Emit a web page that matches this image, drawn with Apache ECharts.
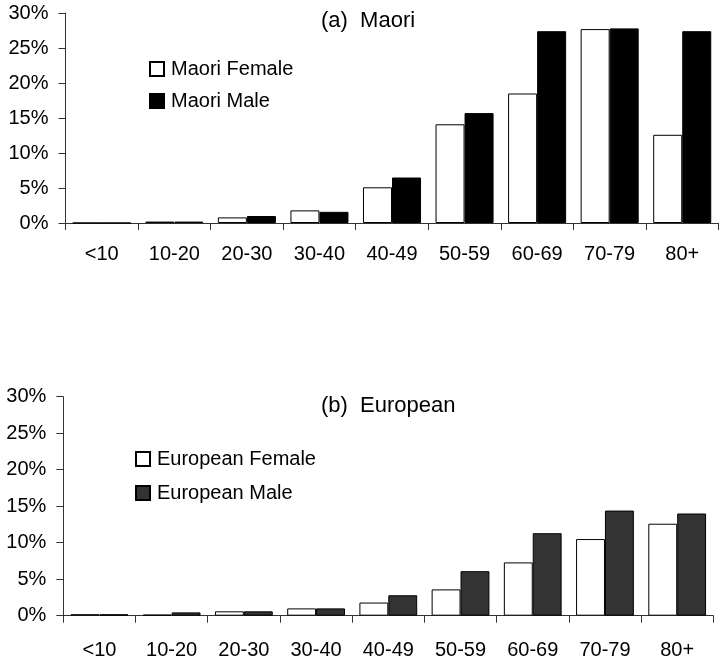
<!DOCTYPE html>
<html>
<head>
<meta charset="utf-8">
<script src="https://cdn.jsdelivr.net/npm/echarts@6/dist/echarts.min.js"></script>
<style>
  html, body { margin: 0; padding: 0; background: #fff; }
  #chart { width: 720px; height: 665px; }
</style>
</head>
<body>
<div id="chart"></div>
<script>
// Age groups shared by both panels
const ageGroups = ['<10', '10-20', '20-30', '30-40', '40-49', '50-59', '60-69', '70-79', '80+'];

// Panel (a): Maori, percent of cases per age group
const maoriFemale = [0, 0.2, 0.8, 1.8, 5.1, 14.1, 18.5, 27.7, 12.6];
const maoriMale   = [0, 0.2, 1.0, 1.6, 6.5, 15.7, 27.4, 27.8, 27.4];

// Panel (b): European, percent of cases per age group
const europeanFemale = [0.2, 0.15, 0.6, 1.0, 1.8, 3.6, 7.3, 10.5, 12.6];
const europeanMale   = [0.2, 0.45, 0.6, 1.0, 2.8, 6.1, 11.3, 14.4, 14.0];

// Y tick settings (percent)
const yMin = 0, yMax = 30, yStep = 5;

const FONT = "'Liberation Sans', Arial, sans-serif";
const axisColor = '#333';

function xAxisFor(gridIndex, labelMargin) {
  return {
    type: 'category', gridIndex, data: ageGroups,
    axisLine: { lineStyle: { color: axisColor, width: 1 } },
    axisTick: { show: true, length: 7, lineStyle: { color: axisColor } },
    axisLabel: { color: '#000', fontSize: 20, fontFamily: FONT, margin: labelMargin }
  };
}
function yAxisFor(gridIndex) {
  return {
    type: 'value', gridIndex, min: yMin, max: yMax, interval: yStep,
    axisLine: { show: true, lineStyle: { color: axisColor, width: 1 } },
    axisTick: { show: true, length: 7, lineStyle: { color: axisColor } },
    splitLine: { show: false },
    axisLabel: { color: '#000', fontSize: 20, fontFamily: FONT, margin: 17, formatter: '{value}%' }
  };
}
function barSeries(name, data, color, idx) {
  return {
    name, type: 'bar', data, xAxisIndex: idx, yAxisIndex: idx,
    barGap: '0%', barCategoryGap: '20%',
    itemStyle: { color, borderColor: '#000', borderWidth: 1 },
    emphasis: { disabled: true }, animation: false
  };
}

const chart = echarts.init(document.getElementById('chart'), null, { renderer: 'canvas' });
chart.setOption({
  backgroundColor: '#fff',
  animation: false,
  title: [
    { text: '(a)  Maori', left: 316, top: 5,
      textStyle: { fontSize: 22, fontWeight: 'normal', color: '#000', fontFamily: FONT } },
    { text: '(b)  European', left: 316, top: 390,
      textStyle: { fontSize: 22, fontWeight: 'normal', color: '#000', fontFamily: FONT } }
  ],
  legend: [
    { orient: 'vertical', left: 149, top: 59, padding: 0, itemGap: 12,
      itemWidth: 14, itemHeight: 14, icon: 'rect', selectedMode: false,
      textStyle: { fontSize: 20, color: '#000', fontFamily: FONT, padding: [0, 0, 0, 2] },
      data: ['Maori Female', 'Maori Male'] },
    { orient: 'vertical', left: 135, top: 449, padding: 0, itemGap: 14,
      itemWidth: 14, itemHeight: 14, icon: 'rect', selectedMode: false,
      textStyle: { fontSize: 20, color: '#000', fontFamily: FONT, padding: [0, 0, 0, 2] },
      data: ['European Female', 'European Male'] }
  ],
  grid: [
    { left: 65.5, top: 13, width: 653, height: 210 },
    { left: 63.3, top: 396.7, width: 650, height: 219 }
  ],
  xAxis: [xAxisFor(0, 21), xAxisFor(1, 25)],
  yAxis: [yAxisFor(0), yAxisFor(1)],
  series: [
    barSeries('Maori Female', maoriFemale, '#fff', 0),
    barSeries('Maori Male', maoriMale, '#000', 0),
    barSeries('European Female', europeanFemale, '#fff', 1),
    barSeries('European Male', europeanMale, '#333', 1)
  ]
});
</script>
</body>
</html>
